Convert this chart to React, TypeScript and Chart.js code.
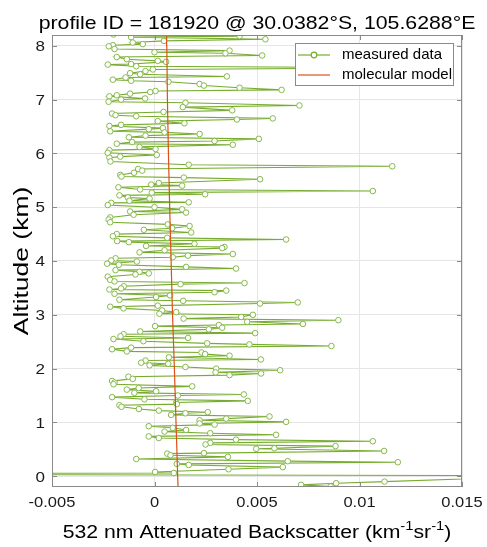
import { useEffect, useRef } from "react";
import { Chart, registerables } from "chart.js";

Chart.register(...registerables);

const titleText = "profile ID = 181920 @ 30.0382°S, 105.6288°E";
const yTitle = "Altitude (km)";
const xTitleMain = "532 nm Attenuated Backscatter (km";
const legendLabels = ["measured data", "molecular model"];

// measured profile: altitude (km) and attenuated backscatter (x 1e-3 km^-1 sr^-1)
const measuredAltKm = [
  8.21, 8.18, 8.16, 8.12, 8.09, 8.06, 8.03, 8.01, 7.99, 7.94, 7.91, 7.88, 7.86, 7.82, 7.79, 7.75, 7.72, 7.70, 7.66, 7.65,
  7.62, 7.59, 7.56, 7.53, 7.49, 7.47, 7.43, 7.41, 7.37, 7.35, 7.33, 7.29, 7.26, 7.22, 7.18, 7.16, 7.14, 7.11, 7.08, 7.06,
  7.02, 7.00, 6.96, 6.94, 6.89, 6.86, 6.80, 6.77, 6.74, 6.71, 6.69, 6.65, 6.63, 6.60, 6.56, 6.53, 6.51, 6.47, 6.45, 6.41,
  6.39, 6.36, 6.33, 6.30, 6.27, 6.23, 6.21, 6.18, 6.16, 6.12, 6.08, 6.06, 6.01, 5.97, 5.94, 5.92, 5.85, 5.79, 5.76, 5.71,
  5.68, 5.64, 5.60, 5.57, 5.55, 5.52, 5.45, 5.42, 5.40, 5.37, 5.33, 5.30, 5.27, 5.24, 5.22, 5.18, 5.16, 5.12, 5.09, 5.08,
  5.04, 5.00, 4.96, 4.92, 4.90, 4.86, 4.81, 4.77, 4.72, 4.68, 4.65, 4.61, 4.58, 4.53, 4.50, 4.46, 4.43, 4.40, 4.37, 4.35,
  4.32, 4.28, 4.26, 4.24, 4.20, 4.16, 4.13, 4.10, 4.07, 4.05, 4.01, 3.99, 3.95, 3.93, 3.89, 3.86, 3.83, 3.80, 3.77, 3.75,
  3.71, 3.65, 3.62, 3.59, 3.57, 3.53, 3.49, 3.47, 3.45, 3.42, 3.39, 3.36, 3.33, 3.28, 3.26, 3.23, 3.21, 3.17, 3.15, 3.12,
  3.08, 3.05, 3.02, 3.00, 2.96, 2.93, 2.90, 2.87, 2.83, 2.81, 2.79, 2.76, 2.73, 2.69, 2.66, 2.64, 2.60, 2.57, 2.55, 2.51,
  2.47, 2.45, 2.42, 2.39, 2.36, 2.32, 2.30, 2.27, 2.24, 2.21, 2.17, 2.15, 2.11, 2.09, 2.06, 2.03, 2.00, 1.97, 1.93, 1.91,
  1.88, 1.85, 1.81, 1.77, 1.74, 1.71, 1.67, 1.64, 1.61, 1.58, 1.55, 1.52, 1.50, 1.47, 1.43, 1.40, 1.37, 1.34, 1.32, 1.29,
  1.25, 1.22, 1.19, 1.17, 1.14, 1.11, 1.07, 1.04, 1.01, 0.98, 0.96, 0.93, 0.90, 0.86, 0.83, 0.80, 0.77, 0.74, 0.71, 0.68,
  0.65, 0.62, 0.59, 0.56, 0.52, 0.51, 0.47, 0.43, 0.42, 0.39, 0.36, 0.32, 0.28, 0.26, 0.23, 0.21, 0.17, 0.13, 0.08, 0.06,
  0.04, 0.01, -0.10, -0.13, -0.16, -0.19,
];

const measuredBackscatterE3 = [
  -2.0, 4.15, -1.14, 5.41, 0.46, -1.06, -0.57, -2.03, -2.23, -1.95, 3.66, 0.0, 3.46, 5.25, -1.84, -1.35, 0.16, 0.57, -1.14, -2.28,
  -0.89, 12.5, -0.08, -0.44, -1.19, -0.7, 3.53, -1.41, -2.03, -1.14, 0.68, 2.2, 2.41, 4.15, 6.2, 0.05, -0.21, -1.19, -1.84, -2.2,
  -0.46, -1.63, -2.24, 1.51, 7.07, 1.38, 3.79, 0.44, -2.07, -1.9, -0.89, 5.77, 4.02, 0.16, 1.46, -1.63, -2.2, 0.41, -0.28, -2.16,
  0.49, 2.2, -0.44, -1.25, 5.09, 2.93, -1.09, -1.84, 3.82, -0.73, 0.05, -2.2, -2.28, 0.11, -1.67, -2.2, -2.15, 1.67, 11.6, -0.8,
  -0.6, -1.0, -1.67, -1.61, 1.43, 5.15, 0.21, -0.16, 1.35, -1.76, -0.7, 10.65, -0.13, 2.47, -1.71, -1.3, -0.24, -1.22, 1.67, -2.11,
  -2.28, 0.0, 1.35, -1.19, 1.54, -1.02, -2.16, -2.24, -2.16, 0.65, 1.71, 0.86, -0.52, 1.79, -1.84, -2.03, 0.62, 6.42, -1.82, -1.25,
  1.95, -0.41, 3.41, 3.3, 0.49, -0.73, 3.82, 1.63, 0.89, -1.9, -2.11, -0.86, -2.31, -1.74, 1.54, 3.98, -1.9, -0.73, -0.28, -0.93,
  -2.28, -2.16, -1.95, 4.39, 1.27, -1.5, -1.63, -2.2, 3.5, 2.93, -1.95, 0.76, 0.08, -1.71, 1.4, 6.99, 5.15, 0.16, -2.16, -1.51,
  0.37, 1.06, 0.24, 4.8, 4.23, 1.42, 8.97, 4.52, 7.24, 3.14, 0.03, 3.3, 2.65, -0.7, 4.91, -1.51, -1.66, 1.64, -2.0, -0.54,
  2.57, 4.63, 8.63, -1.14, -2.07, -1.35, 2.29, 2.47, 3.66, 0.7, 5.19, -0.44, -0.65, 0.67, -0.24, 1.51, 3.01, 6.13, 2.98, 5.2,
  3.66, -1.27, -1.06, -2.07, -1.95, -2.0, 1.84, -0.77, -1.35, 0.08, -0.98, 4.36, 1.14, -2.07, -0.49, 4.55, 1.06, 1.09, -1.71, -1.61,
  -0.76, 0.21, 2.6, 1.51, 0.81, 5.61, 3.5, 2.2, 6.42, 2.2, 2.93, -0.28, 0.89, 1.54, 0.49, 2.72, 5.93, -0.28, 0.21, 3.98,
  10.65, 2.72, 2.49, 8.83, 5.85, 4.96, 11.2, 2.41, 0.62, 0.78, 3.58, -0.89, 6.5, 11.87, 1.09, 1.67, 6.26, 3.61, 0.03, 0.94,
  -20.0, 20.0, 11.22, 8.86, 7.15, 8.59,
];

// molecular model
const modelAltKm = [-0.2, 0, 1, 2, 3, 4, 5, 6, 7, 8, 8.2];
const modelBackscatterE3 = [1.15, 1.13, 1.05, 0.97, 0.88, 0.81, 0.74, 0.68, 0.63, 0.6, 0.59];

const xTicks = [-0.005, 0, 0.005, 0.01, 0.015];
const xTickLabels = ["-0.005", "0", "0.005", "0.01", "0.015"];
const yTicks = [0, 1, 2, 3, 4, 5, 6, 7, 8];
const yTickLabels = ["0", "1", "2", "3", "4", "5", "6", "7", "8"];

const GREEN = "#77AC30";
const RED = "#D95319";
const FONT = '"Liberation Sans", Arial, Helvetica, sans-serif';
const TEXT = "#1a1a1a";

function drawStretched(ctx: any, text: string, x: number, y: number, size: number, sx: number, align: string, baseline: string) {
  ctx.save();
  ctx.font = `${size}px ${FONT}`;
  ctx.textAlign = "left";
  ctx.textBaseline = baseline;
  const w = ctx.measureText(text).width * sx;
  const left = align === "center" ? x - w / 2 : align === "right" ? x - w : x;
  ctx.translate(left, y);
  ctx.scale(sx, 1);
  ctx.fillText(text, 0, 0);
  ctx.restore();
  return w;
}

const decorPlugin = {
  id: "decor",
  afterDraw(chart: any) {
    const { ctx, chartArea: a, scales } = chart;
    const xs = scales.x;
    const ys = scales.y;
    ctx.save();
    // axes box
    ctx.strokeStyle = "#8a8a8a";
    ctx.lineWidth = 1;
    ctx.strokeRect(Math.round(a.left) + 0.5, Math.round(a.top) + 0.5, Math.round(a.right - a.left) - 1, Math.round(a.bottom - a.top) - 1);
    // inward ticks
    ctx.beginPath();
    xTicks.forEach((v) => {
      const px = Math.round(xs.getPixelForValue(v)) + 0.5;
      ctx.moveTo(px, a.bottom);
      ctx.lineTo(px, a.bottom - 5);
      ctx.moveTo(px, a.top);
      ctx.lineTo(px, a.top + 5);
    });
    yTicks.forEach((v) => {
      const py = Math.round(ys.getPixelForValue(v)) + 0.5;
      ctx.moveTo(a.left, py);
      ctx.lineTo(a.left + 5, py);
      ctx.moveTo(a.right, py);
      ctx.lineTo(a.right - 5, py);
    });
    ctx.stroke();

    ctx.fillStyle = TEXT;
    // tick labels
    xTicks.forEach((v, i) => {
      drawStretched(ctx, xTickLabels[i], xs.getPixelForValue(v), a.bottom + 16, 15, 1.1, "center", "middle");
    });
    yTicks.forEach((v, i) => {
      drawStretched(ctx, yTickLabels[i], a.left - 7, ys.getPixelForValue(v) + 1, 15.5, 1.1, "right", "middle");
    });

    const cx = (a.left + a.right) / 2;
    ctx.fillStyle = "#000";
    // title
    drawStretched(ctx, titleText, cx, 29, 19, 1.12, "center", "alphabetic");

    // x title with superscripts
    const sx = 1.18;
    const parts: [string, boolean][] = [
      [xTitleMain, false],
      ["-1", true],
      ["sr", false],
      ["-1", true],
      [")", false],
    ];
    let total = 0;
    parts.forEach(([t, sup]) => {
      ctx.font = `${sup ? 12.5 : 18}px ${FONT}`;
      total += ctx.measureText(t).width * sx;
    });
    let x0 = cx - total / 2;
    const base = 538;
    parts.forEach(([t, sup]) => {
      x0 += drawStretched(ctx, t, x0, sup ? base - 8 : base, sup ? 12.5 : 18, sx, "left", "alphabetic");
    });

    // y title (stretched along its length)
    ctx.save();
    ctx.translate(22, (a.top + a.bottom) / 2);
    ctx.rotate(-Math.PI / 2);
    drawStretched(ctx, yTitle, 0, 0, 21, 1.26, "center", "middle");
    ctx.restore();

    // legend
    const lx = 295, ly = 43, lw = 158, lh = 42;
    ctx.fillStyle = "#fff";
    ctx.fillRect(lx, ly, lw, lh);
    ctx.strokeStyle = "#8a8a8a";
    ctx.lineWidth = 1;
    ctx.strokeRect(lx + 0.5, ly + 0.5, lw, lh);
    const rows = [ly + 12, ly + 32];
    ctx.lineWidth = 1.2;
    ctx.strokeStyle = GREEN;
    ctx.beginPath();
    ctx.moveTo(298, rows[0]);
    ctx.lineTo(330, rows[0]);
    ctx.stroke();
    ctx.beginPath();
    ctx.arc(314, rows[0], 2.8, 0, Math.PI * 2);
    ctx.fillStyle = "#fff";
    ctx.fill();
    ctx.stroke();
    ctx.strokeStyle = RED;
    ctx.beginPath();
    ctx.moveTo(298, rows[1]);
    ctx.lineTo(330, rows[1]);
    ctx.stroke();
    ctx.fillStyle = "#000";
    drawStretched(ctx, legendLabels[0], 342, rows[0], 15, 1.0, "left", "middle");
    drawStretched(ctx, legendLabels[1], 342, rows[1], 15, 1.0, "left", "middle");
    ctx.restore();
  },
};

export default function App() {
  const ref = useRef<HTMLCanvasElement>(null);
  useEffect(() => {
    const measured = measuredAltKm.map((y, i) => ({ x: measuredBackscatterE3[i] / 1000, y }));
    const model = modelAltKm.map((y, i) => ({ x: modelBackscatterE3[i] / 1000, y }));
    const chart = new Chart(ref.current as HTMLCanvasElement, {
      type: "scatter",
      data: {
        datasets: [
          {
            label: legendLabels[0],
            data: measured,
            showLine: true,
            borderColor: GREEN,
            backgroundColor: "#ffffff",
            borderWidth: 1.1,
            pointRadius: 2.8,
            pointBorderWidth: 1,
            pointBorderColor: "#86B94A",
            pointBackgroundColor: "#ffffff",
            order: 1,
          },
          {
            label: legendLabels[1],
            data: model,
            showLine: true,
            borderColor: RED,
            borderWidth: 1.2,
            pointRadius: 0,
            order: 0,
          },
        ],
      },
      options: {
        responsive: false,
        animation: false,
        devicePixelRatio: 1,
        layout: { padding: { top: 35, right: 25, left: 0, bottom: 0 } },
        plugins: { legend: { display: false }, tooltip: { enabled: false }, title: { display: false } },
        scales: {
          x: {
            type: "linear",
            min: -0.005,
            max: 0.015,
            afterFit: (s: any) => {
              s.height = 60;
            },
            afterBuildTicks: (s: any) => {
              s.ticks = xTicks.map((v) => ({ value: v }));
            },
            ticks: { display: false },
            grid: { color: "#e6e6e6", drawTicks: false },
            border: { display: false },
          },
          y: {
            type: "linear",
            min: -0.2,
            max: 8.2,
            afterFit: (s: any) => {
              s.width = 52;
            },
            afterBuildTicks: (s: any) => {
              s.ticks = yTicks.map((v) => ({ value: v }));
            },
            ticks: { display: false },
            grid: { color: "#e6e6e6", drawTicks: false },
            border: { display: false },
          },
        },
      },
      plugins: [decorPlugin],
    });
    return () => chart.destroy();
  }, []);
  return (
    <div style={{ position: "absolute", left: 0, top: 0, width: 487, height: 547, background: "#fff" }}>
      <canvas ref={ref} width={487} height={547} style={{ display: "block" }} />
    </div>
  );
}
